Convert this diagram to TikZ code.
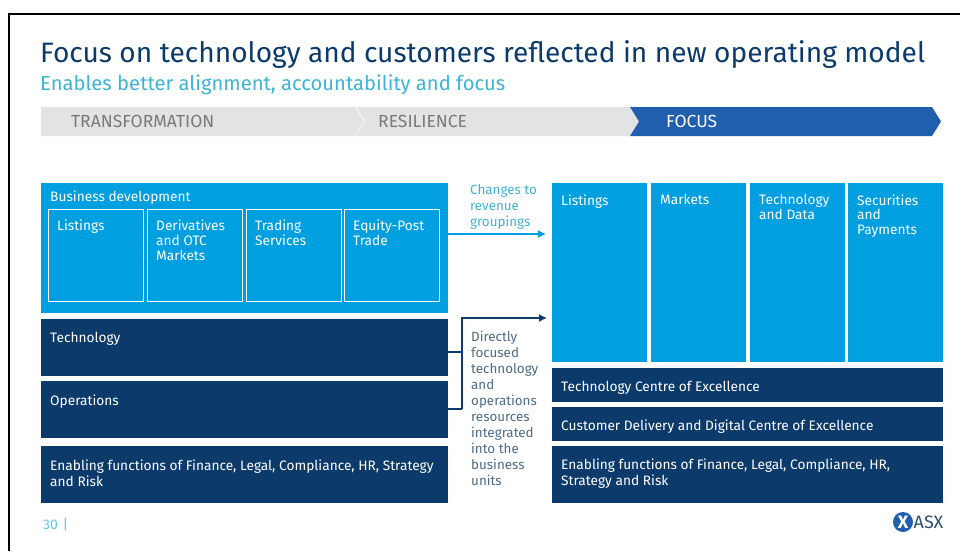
\documentclass[tikz,border=0pt]{standalone}
\usepackage{fontspec}
\setmainfont{Fira Sans}
\usepackage{xcolor}
\usetikzlibrary{arrows.meta}
\definecolor{asxcyan}{HTML}{009FDF}
\definecolor{asxnavy}{HTML}{0C3A6B}
\definecolor{asxblue}{HTML}{1F5FAE}
\definecolor{asxgrey}{HTML}{E3E3E3}
\definecolor{asxtext}{HTML}{7A7A7A}
\definecolor{asxslate}{HTML}{4F6A86}
\definecolor{asxteal}{HTML}{3DB4D6}
\tikzset{
  panel/.style={anchor=north west,inner sep=0pt,outer sep=0pt},
  cyanbox/.style={panel,fill=asxcyan},
  navybox/.style={panel,fill=asxnavy},
  outlinebox/.style={panel,draw=white,line width=1pt},
  boxtext/.style={anchor=north west,inner sep=0pt,text=white,align=left,font=\fontsize{13.7}{16}\selectfont},
  sidetext/.style={anchor=north west,inner sep=0pt,align=left,font=\fontsize{13.4}{16}\selectfont},
  steptext/.style={anchor=west,inner sep=0pt,font=\fontsize{17.5}{20}\selectfont},
  linkline/.style={line width=1.4pt},
  linktip/.style={-{Latex[length=8pt,width=8pt]}},
}
\begin{document}
\begin{tikzpicture}[x=1pt,y=-1pt]
  \useasboundingbox (0,0) rectangle (960,551);
  % slide frame
  \draw[line width=2pt] (960,14) -- (9,14) -- (9,551);
  \node[anchor=base west,inner sep=0pt,text=asxnavy,font=\fontsize{28.1}{32}\selectfont] (title) at (40,63)
    {Focus on technology and customers reflected in new operating model};
  \node[anchor=base west,inner sep=0pt,text=asxteal,font=\fontsize{20.2}{24}\selectfont] (subtitle) at (40,90)
    {Enables better alignment, accountability and focus};
  % process bar
  \fill[asxgrey] (41,107) -- (355,107) -- (364,121.5) -- (355,136) -- (41,136) -- cycle;
  \fill[asxgrey] (356,107) -- (630,107) -- (639,121.5) -- (630,136) -- (356,136) -- (365,121.5) -- cycle;
  \fill[asxblue] (630,107) -- (932,107) -- (941,121.5) -- (932,136) -- (630,136) -- (639,121.5) -- cycle;
  \node[steptext,text=asxtext] (transformation) at (71,121.5) {TRANSFORMATION};
  \node[steptext,text=asxtext] (resilience) at (378,121.5) {RESILIENCE};
  \node[steptext,text=white] (focus) at (666,121.5) {FOCUS};
  % left side
  \node[cyanbox,minimum width=407pt,minimum height=130pt] (busdev) at (41,183) {};
  \node[boxtext] (busdevtext) at (50,191) {Business development};
  \foreach \nm / \x / \t in {listl/48/Listings,deriv/147/{Derivatives\\and OTC\\Markets},trading/246/{Trading\\Services},equity/344/{Equity-Post\\Trade}} {
    \node[outlinebox,minimum width=95pt,minimum height=92pt] (\nm) at (\x,209) {};
    \node[boxtext,font=\fontsize{13.7}{14.6}\selectfont] (\nm text) at (\x+9,220) {\t};
  };
  \foreach \nm / \y / \h / \t in {tech/319/57/Technology,oper/381/57/Operations,enabl/446/57/{Enabling functions of Finance, Legal, Compliance, HR, Strategy\\and Risk}} {
    \node[navybox,minimum width=407pt,minimum height=\h pt] (\nm) at (41,\y) {};
    \node[boxtext] (\nm text) at (50,\y+13.5) {\t};
  };
  % right side
  \foreach \nm / \x / \t in {listr/552/Listings,markets/651/Markets,techdata/750/{Technology\\and Data},secur/848/{Securities\\and\\Payments}} {
    \node[cyanbox,minimum width=95pt,minimum height=179pt] (\nm) at (\x,183) {};
    \node[boxtext,font=\fontsize{13.7}{14.6}\selectfont] (\nm text) at (\x+9,194.5) {\t};
  };
  \foreach \nm / \y / \h / \t in {coe/368/34/Technology Centre of Excellence,cust/407/34/Customer Delivery and Digital Centre of Excellence,enabr/446/57/{Enabling functions of Finance, Legal, Compliance, HR,\\Strategy and Risk}} {
    \node[navybox,minimum width=391pt,minimum height=\h pt] (\nm) at (552,\y) {};
    \node[boxtext] (\nm text) at (561,\y+13) {\t};
  };
  % connectors
  \coordinate (bendtop) at (462,318);
  \coordinate (bendmid) at (462,352);
  \coordinate (bendbot) at (462,409);
  \coordinate (toptip) at (547,318);
  \coordinate (bluetip) at (546,234);
  \node[sidetext,text=asxteal] (changes) at (470,184.5) {Changes to\\revenue\\groupings};
  \node[sidetext,text=asxslate] (direct) at (471,331)
    {Directly\\focused\\technology\\and\\operations\\resources\\integrated\\into the\\business\\units};
  \draw[asxcyan,linkline,linktip] (busdev.east |- bluetip) -- (bluetip);
  \draw[asxnavy,linkline] (tech.east |- bendmid) -- (bendmid);
  \draw[asxnavy,linkline] (oper.east |- bendbot) -- (bendbot);
  \draw[asxnavy,linkline,linktip] (bendbot) -- (bendtop) -- (toptip);
  % footer
  \node[anchor=west,inner sep=0pt,text=asxcyan!60,font=\fontsize{14}{14}\selectfont] (pagenum) at (43,525) {30\,\,|};
  \node[circle,fill=asxblue,minimum size=20pt,inner sep=0pt] (logo) at (903,522) {};
  \node[text=white,inner sep=0pt,font=\bfseries\fontsize{18}{18}\selectfont] (logox) at (logo) {X};
  \node[anchor=west,inner sep=0pt,text=asxnavy!70!gray,font=\fontsize{18}{18}\selectfont] (logotext) at (913.5,522) {ASX};
\end{tikzpicture}
\end{document}
